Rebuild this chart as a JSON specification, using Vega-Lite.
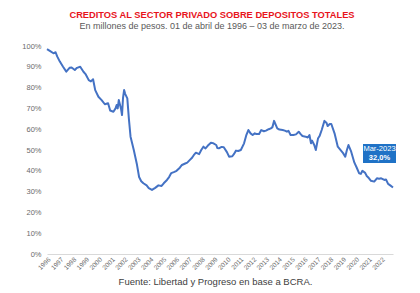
{
  "$schema": "https://vega.github.io/schema/vega-lite/v6.json",
  "width": 346,
  "height": 208,
  "autosize": {"type": "none"},
  "padding": {"left": 47, "top": 46, "right": 27, "bottom": 39},
  "background": "white",
  "config": {"view": {"stroke": null}, "font": "Liberation Sans"},
  "title": {
    "text": "CREDITOS AL SECTOR PRIVADO SOBRE DEPOSITOS TOTALES",
    "subtitle": "En millones de pesos. 01 de abril de 1996 – 03 de marzo de 2023.",
    "anchor": "middle",
    "dx": -8,
    "offset": 11,
    "font": "Liberation Sans",
    "fontSize": 9.3,
    "fontWeight": "bold",
    "color": "#e8141c",
    "subtitleFont": "Liberation Sans",
    "subtitleFontSize": 9,
    "subtitleColor": "#595959",
    "subtitlePadding": 2
  },
  "datasets": {
    "series": [
      {"date": "1996-04-01", "value": 0.985},
      {"date": "1996-07-01", "value": 0.975},
      {"date": "1996-10-01", "value": 0.965},
      {"date": "1996-12-01", "value": 0.97},
      {"date": "1997-01-15", "value": 0.95},
      {"date": "1997-04-01", "value": 0.925},
      {"date": "1997-07-01", "value": 0.90},
      {"date": "1997-10-01", "value": 0.877},
      {"date": "1998-01-01", "value": 0.895},
      {"date": "1998-03-01", "value": 0.897},
      {"date": "1998-06-01", "value": 0.885},
      {"date": "1998-08-01", "value": 0.895},
      {"date": "1998-11-01", "value": 0.90},
      {"date": "1999-02-01", "value": 0.876},
      {"date": "1999-04-01", "value": 0.865},
      {"date": "1999-07-01", "value": 0.836},
      {"date": "1999-09-01", "value": 0.83},
      {"date": "1999-11-01", "value": 0.84},
      {"date": "2000-01-01", "value": 0.788},
      {"date": "2000-04-01", "value": 0.756},
      {"date": "2000-07-01", "value": 0.74},
      {"date": "2000-10-01", "value": 0.72},
      {"date": "2001-01-01", "value": 0.725},
      {"date": "2001-03-01", "value": 0.69},
      {"date": "2001-06-01", "value": 0.684},
      {"date": "2001-08-01", "value": 0.70},
      {"date": "2001-09-01", "value": 0.716},
      {"date": "2001-10-01", "value": 0.70},
      {"date": "2001-11-01", "value": 0.74},
      {"date": "2002-01-01", "value": 0.70},
      {"date": "2002-02-01", "value": 0.668},
      {"date": "2002-03-01", "value": 0.75},
      {"date": "2002-04-01", "value": 0.788},
      {"date": "2002-05-01", "value": 0.77},
      {"date": "2002-07-01", "value": 0.748},
      {"date": "2002-08-15", "value": 0.65},
      {"date": "2002-10-01", "value": 0.564},
      {"date": "2003-01-01", "value": 0.50},
      {"date": "2003-04-01", "value": 0.43},
      {"date": "2003-06-01", "value": 0.37},
      {"date": "2003-08-01", "value": 0.35},
      {"date": "2003-10-01", "value": 0.34},
      {"date": "2004-01-01", "value": 0.33},
      {"date": "2004-03-01", "value": 0.317},
      {"date": "2004-06-01", "value": 0.308},
      {"date": "2004-09-01", "value": 0.318},
      {"date": "2004-12-01", "value": 0.33},
      {"date": "2005-03-01", "value": 0.327},
      {"date": "2005-05-01", "value": 0.34},
      {"date": "2005-08-01", "value": 0.356},
      {"date": "2005-10-01", "value": 0.37},
      {"date": "2005-12-01", "value": 0.389},
      {"date": "2006-03-01", "value": 0.395},
      {"date": "2006-05-01", "value": 0.40},
      {"date": "2006-08-01", "value": 0.415},
      {"date": "2006-10-01", "value": 0.428},
      {"date": "2007-01-01", "value": 0.435},
      {"date": "2007-03-01", "value": 0.439},
      {"date": "2007-05-01", "value": 0.45},
      {"date": "2007-07-01", "value": 0.46},
      {"date": "2007-09-01", "value": 0.475},
      {"date": "2007-11-01", "value": 0.487},
      {"date": "2008-02-01", "value": 0.48},
      {"date": "2008-04-01", "value": 0.50},
      {"date": "2008-06-01", "value": 0.516},
      {"date": "2008-08-01", "value": 0.508},
      {"date": "2008-10-01", "value": 0.52},
      {"date": "2009-01-01", "value": 0.535},
      {"date": "2009-03-01", "value": 0.533},
      {"date": "2009-06-01", "value": 0.524},
      {"date": "2009-07-01", "value": 0.51},
      {"date": "2009-08-15", "value": 0.508},
      {"date": "2009-11-01", "value": 0.515},
      {"date": "2010-01-01", "value": 0.513},
      {"date": "2010-04-01", "value": 0.49},
      {"date": "2010-06-01", "value": 0.468},
      {"date": "2010-09-01", "value": 0.47},
      {"date": "2010-10-15", "value": 0.48},
      {"date": "2010-12-15", "value": 0.497},
      {"date": "2011-02-15", "value": 0.495},
      {"date": "2011-05-01", "value": 0.50},
      {"date": "2011-08-01", "value": 0.532},
      {"date": "2011-10-01", "value": 0.57},
      {"date": "2011-12-01", "value": 0.596},
      {"date": "2012-02-01", "value": 0.58},
      {"date": "2012-04-01", "value": 0.572},
      {"date": "2012-06-01", "value": 0.58},
      {"date": "2012-07-15", "value": 0.577},
      {"date": "2012-10-01", "value": 0.577},
      {"date": "2012-12-01", "value": 0.596},
      {"date": "2013-02-15", "value": 0.59},
      {"date": "2013-04-15", "value": 0.593},
      {"date": "2013-07-01", "value": 0.60},
      {"date": "2013-09-01", "value": 0.604},
      {"date": "2013-10-15", "value": 0.61},
      {"date": "2013-12-01", "value": 0.64},
      {"date": "2014-03-01", "value": 0.604},
      {"date": "2014-05-01", "value": 0.598},
      {"date": "2014-08-01", "value": 0.596},
      {"date": "2014-10-01", "value": 0.593},
      {"date": "2014-12-01", "value": 0.588},
      {"date": "2015-01-15", "value": 0.592},
      {"date": "2015-03-15", "value": 0.572},
      {"date": "2015-06-01", "value": 0.572},
      {"date": "2015-08-15", "value": 0.575},
      {"date": "2015-11-01", "value": 0.588},
      {"date": "2016-01-01", "value": 0.575},
      {"date": "2016-02-15", "value": 0.567},
      {"date": "2016-05-15", "value": 0.564},
      {"date": "2016-07-15", "value": 0.56},
      {"date": "2016-09-01", "value": 0.572},
      {"date": "2016-10-15", "value": 0.532},
      {"date": "2016-11-15", "value": 0.545},
      {"date": "2017-01-15", "value": 0.524},
      {"date": "2017-03-01", "value": 0.50},
      {"date": "2017-05-01", "value": 0.555},
      {"date": "2017-06-15", "value": 0.567},
      {"date": "2017-08-15", "value": 0.596},
      {"date": "2017-11-01", "value": 0.64},
      {"date": "2018-01-01", "value": 0.63},
      {"date": "2018-02-01", "value": 0.615},
      {"date": "2018-04-01", "value": 0.625},
      {"date": "2018-05-15", "value": 0.625},
      {"date": "2018-08-15", "value": 0.58},
      {"date": "2018-11-15", "value": 0.516},
      {"date": "2019-02-15", "value": 0.497},
      {"date": "2019-04-15", "value": 0.485},
      {"date": "2019-06-15", "value": 0.468},
      {"date": "2019-08-01", "value": 0.50},
      {"date": "2019-09-15", "value": 0.524},
      {"date": "2019-12-01", "value": 0.492},
      {"date": "2020-03-01", "value": 0.439},
      {"date": "2020-05-01", "value": 0.417},
      {"date": "2020-07-15", "value": 0.388},
      {"date": "2020-09-01", "value": 0.385},
      {"date": "2020-10-15", "value": 0.40},
      {"date": "2021-01-01", "value": 0.39},
      {"date": "2021-02-15", "value": 0.375},
      {"date": "2021-04-15", "value": 0.365},
      {"date": "2021-06-15", "value": 0.352},
      {"date": "2021-09-15", "value": 0.348},
      {"date": "2021-12-01", "value": 0.364},
      {"date": "2022-02-01", "value": 0.362},
      {"date": "2022-04-01", "value": 0.364},
      {"date": "2022-07-01", "value": 0.356},
      {"date": "2022-08-15", "value": 0.358},
      {"date": "2022-10-15", "value": 0.337},
      {"date": "2022-12-15", "value": 0.33},
      {"date": "2023-03-03", "value": 0.32}
    ],
    "last": [
      {"date": "2023-03-03", "value": 0.32, "month": "Mar-2023", "pct": "32,0%"}
    ]
  },
  "encoding": {
    "x": {
      "field": "date",
      "type": "temporal",
      "scale": {"domain": ["1996-04-01", "2023-03-03"]},
      "axis": {
        "values": ["1996-04-01","1997-04-01","1998-04-01","1999-04-01","2000-04-01","2001-04-01","2002-04-01","2003-04-01","2004-04-01","2005-04-01","2006-04-01","2007-04-01","2008-04-01","2009-04-01","2010-04-01","2011-04-01","2012-04-01","2013-04-01","2014-04-01","2015-04-01","2016-04-01","2017-04-01","2018-04-01","2019-04-01","2020-04-01","2021-04-01","2022-04-01"],
        "format": "%Y",
        "labelAngle": -45,
        "labelAlign": "right",
        "labelBaseline": "top",
        "labelFontSize": 6.5,
        "labelColor": "#6b6b6b",
        "labelPadding": 2,
        "labelOverlap": false,
        "labelFlush": false,
        "ticks": false,
        "grid": false,
        "domainColor": "#d9d9d9",
        "title": "Fuente: Libertad y Progreso en base a BCRA.",
        "titleFontSize": 9.5,
        "titleFontWeight": "normal",
        "titleColor": "#404040",
        "titlePadding": 6,
        "titleX": 168
      }
    },
    "y": {
      "field": "value",
      "type": "quantitative",
      "scale": {"domain": [0, 1]},
      "axis": {
        "values": [0, 0.1, 0.2, 0.3, 0.4, 0.5, 0.6, 0.7, 0.8, 0.9, 1.0],
        "format": ".0%",
        "labelFontSize": 7.5,
        "labelColor": "#6b6b6b",
        "labelPadding": 6,
        "ticks": false,
        "domain": false,
        "grid": false,
        "title": null
      }
    }
  },
  "layer": [
    {
      "data": {"name": "series"},
      "mark": {"type": "line", "color": "#4472c4", "strokeWidth": 2, "strokeJoin": "round"}
    },
    {
      "data": {"name": "last"},
      "mark": {
        "type": "point",
        "shape": "M-1,-0.576L1,-0.576L1,0.576L-1,0.576Z",
        "size": 1089,
        "filled": true,
        "fill": "#1f72c6",
        "opacity": 1,
        "strokeWidth": 0,
        "xOffset": -13.5,
        "yOffset": -34
      }
    },
    {
      "data": {"name": "last"},
      "mark": {"type": "text", "color": "white", "fontSize": 7.5, "dx": -13.5, "dy": -38.5, "baseline": "middle", "align": "center"},
      "encoding": {"text": {"field": "month"}}
    },
    {
      "data": {"name": "last"},
      "mark": {"type": "text", "color": "white", "fontSize": 7.5, "fontWeight": "bold", "dx": -13.5, "dy": -29, "baseline": "middle", "align": "center"},
      "encoding": {"text": {"field": "pct"}}
    }
  ]
}
